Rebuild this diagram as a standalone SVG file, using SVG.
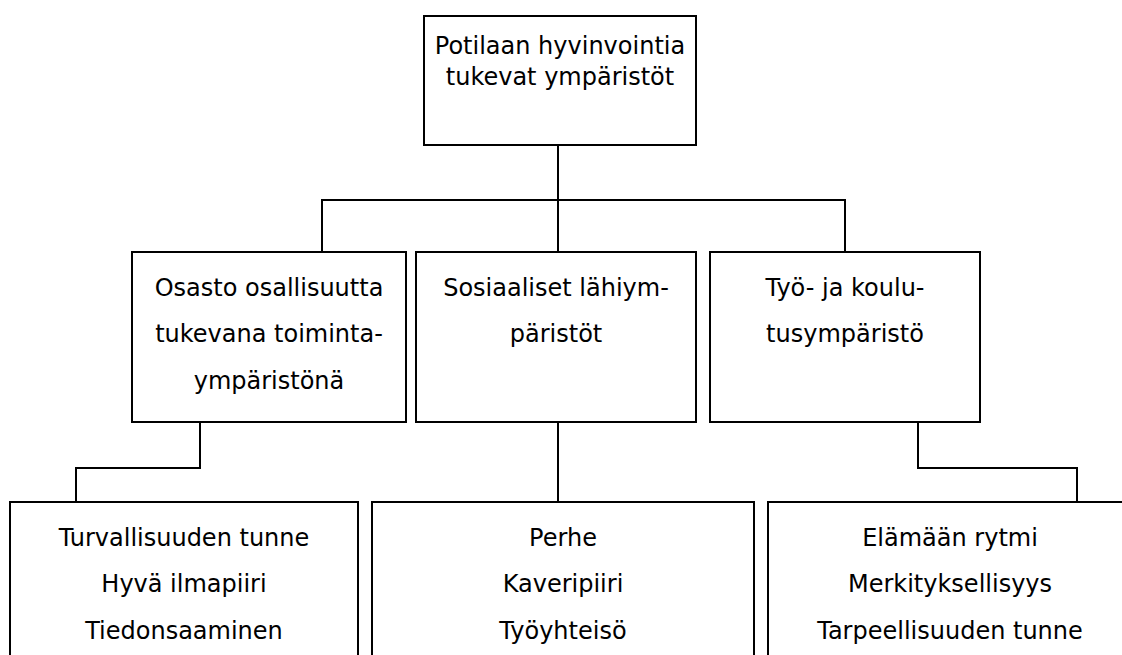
<svg xmlns="http://www.w3.org/2000/svg" width="1122" height="655" viewBox="0 0 1122 655">
  <style>
    .box { fill: #ffffff; stroke: #000000; stroke-width: 2; }
    .link { fill: none; stroke: #000000; stroke-width: 2; }
    text { font-family: "DejaVu Sans", "Noto Sans", sans-serif; font-size: 24px; fill: #000000; text-anchor: middle; }
  </style>
  <rect width="1122" height="655" fill="#ffffff"/>

  <g id="connectors">
    <path class="link" d="M558 145 V252"/>
    <path class="link" d="M322 252 V200 H845 V252"/>
    <path class="link" d="M200 422 V468 H76 V502"/>
    <path class="link" d="M558 422 V502"/>
    <path class="link" d="M918 422 V468 H1077 V502"/>
  </g>

  <g id="root">
    <rect class="box" x="424" y="16" width="272" height="129"/>
    <text x="560" y="54">Potilaan hyvinvointia</text>
    <text x="560" y="85">tukevat ympäristöt</text>
  </g>

  <g id="osasto">
    <rect class="box" x="132" y="252" width="274" height="170"/>
    <text x="269" y="296">Osasto osallisuutta</text>
    <text x="269" y="342">tukevana toiminta-</text>
    <text x="269" y="389">ympäristönä</text>
  </g>

  <g id="sosiaaliset">
    <rect class="box" x="416" y="252" width="280" height="170"/>
    <text x="556" y="296">Sosiaaliset lähiym-</text>
    <text x="556" y="342">päristöt</text>
  </g>

  <g id="tyo-koulutus">
    <rect class="box" x="710" y="252" width="270" height="170"/>
    <text x="845" y="296">Työ- ja koulu-</text>
    <text x="845" y="342">tusympäristö</text>
  </g>

  <g id="osasto-tekijat">
    <rect class="box" x="10" y="502" width="348" height="170"/>
    <text x="184" y="546">Turvallisuuden tunne</text>
    <text x="184" y="592">Hyvä ilmapiiri</text>
    <text x="184" y="639">Tiedonsaaminen</text>
  </g>

  <g id="sosiaaliset-tekijat">
    <rect class="box" x="372" y="502" width="382" height="170"/>
    <text x="563" y="546">Perhe</text>
    <text x="563" y="592">Kaveripiiri</text>
    <text x="563" y="639">Työyhteisö</text>
  </g>

  <g id="tyo-tekijat">
    <rect class="box" x="768" y="502" width="364" height="170"/>
    <text x="950" y="546">Elämään rytmi</text>
    <text x="950" y="592">Merkityksellisyys</text>
    <text x="950" y="639">Tarpeellisuuden tunne</text>
  </g>
</svg>
